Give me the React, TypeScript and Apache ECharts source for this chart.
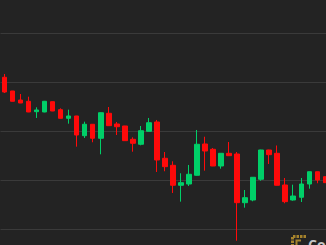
import React, { useEffect, useRef } from "react";
import * as echarts from "echarts";

const categories = [
  "09:00", "09:30", "10:00", "10:30", "11:00", "11:30", "12:00", "12:30", "13:00", "13:30",
  "14:00", "14:30", "15:00", "15:30", "16:00", "16:30", "17:00", "17:30", "18:00", "18:30",
  "19:00", "19:30", "20:00", "20:30", "21:00", "21:30", "22:00", "22:30", "23:00", "23:30",
  "00:00", "00:30", "01:00", "01:30", "02:00", "02:30", "03:00", "03:30", "04:00", "04:30",
  "05:00",
];

// [open, close, low, high]
const ohlc: number[][] = [
  [9310.5, 9280.3, 9278.3, 9317.2],
  [9282.4, 9261.3, 9261.0, 9282.6],
  [9263.9, 9257.8, 9257.5, 9276.2],
  [9261.3, 9239.4, 9239.0, 9270.7],
  [9240.0, 9243.5, 9227.1, 9249.0],
  [9239.4, 9261.3, 9238.8, 9262.0],
  [9260.5, 9241.4, 9241.0, 9261.0],
  [9244.1, 9226.4, 9226.0, 9246.9],
  [9226.4, 9231.2, 9215.4, 9244.1],
  [9231.2, 9192.2, 9168.3, 9231.5],
  [9190.8, 9214.2, 9186.1, 9219.5],
  [9214.2, 9185.5, 9177.3, 9214.5],
  [9185.5, 9237.9, 9152.7, 9238.5],
  [9236.7, 9211.3, 9211.0, 9249.6],
  [9214.8, 9209.2, 9192.2, 9218.9],
  [9210.7, 9180.6, 9180.3, 9211.0],
  [9183.4, 9175.2, 9158.0, 9187.5],
  [9173.2, 9201.0, 9171.1, 9210.7],
  [9199.8, 9217.4, 9199.5, 9227.1],
  [9218.9, 9141.0, 9116.4, 9223.0],
  [9144.5, 9127.3, 9117.9, 9157.4],
  [9130.1, 9089.2, 9073.4, 9138.3],
  [9089.2, 9094.5, 9055.6, 9113.8],
  [9091.8, 9111.7, 9087.7, 9130.8],
  [9109.7, 9173.2, 9109.0, 9202.5],
  [9173.8, 9159.4, 9119.1, 9188.7],
  [9162.9, 9128.7, 9128.4, 9165.6],
  [9128.7, 9154.7, 9123.2, 9155.0],
  [9154.7, 9149.8, 9149.5, 9177.9],
  [9153.3, 9053.5, 8975.6, 9157.4],
  [9053.5, 9063.8, 9043.3, 9079.5],
  [9059.0, 9105.6, 9056.4, 9106.0],
  [9101.5, 9161.5, 9098.6, 9162.0],
  [9161.5, 9151.9, 9132.8, 9162.0],
  [9154.7, 9089.2, 9088.9, 9170.7],
  [9089.8, 9055.6, 9052.3, 9104.1],
  [9059.0, 9067.2, 9057.6, 9090.4],
  [9064.6, 9091.8, 9054.9, 9104.1],
  [9091.8, 9117.0, 9082.2, 9117.3],
  [9117.0, 9100.0, 9093.3, 9117.3],
  [9106.8, 9094.5, 9094.0, 9107.0],
];

const yMin = 8900;
const yMax = 9500;
const yStep = 100;

export default function App() {
  const ref = useRef<HTMLDivElement>(null);
  useEffect(() => {
    document.body.style.margin = "0";
    document.body.style.background = "#232323";
    const chart = echarts.init(ref.current!, null, { renderer: "svg" });
    chart.setOption({
      animation: false,
      backgroundColor: "#232323",
      grid: {
        left: 0.5,
        top: -15.2,
        width: 41 * 8.02,
        height: 292.8,
        containLabel: false,
        outerBoundsMode: "none",
      },
      xAxis: {
        type: "category",
        data: categories,
        boundaryGap: true,
        axisLine: { show: false },
        axisTick: { show: false },
        axisLabel: { show: false },
        splitLine: { show: false },
      },
      yAxis: {
        type: "value",
        min: yMin,
        max: yMax,
        interval: yStep,
        axisLine: { show: false },
        axisTick: { show: false },
        axisLabel: { show: false },
        splitLine: { show: true, lineStyle: { color: "#3a3a3a", width: 1 } },
      },
      series: [
        {
          type: "candlestick",
          data: ohlc,
          barWidth: 5,
          clip: false,
          itemStyle: {
            color: "#00cf68",
            color0: "#ff0a0a",
            borderColor: "#00cf68",
            borderColor0: "#ff0a0a",
            borderWidth: 1,
          },
        },
      ],
      graphic: [
        {
          type: "polyline",
          shape: { points: [[306, 236.5], [292.5, 236.5], [292.5, 247]] },
          style: { stroke: "#a5822c", lineWidth: 3, fill: "none", lineDash: [2.5, 1] },
        },
        {
          type: "polyline",
          shape: { points: [[301, 240.5], [296.5, 240.5], [296.5, 247]] },
          style: { stroke: "#a5822c", lineWidth: 2, fill: "none" },
        },
        {
          type: "text",
          x: 308,
          y: 237.5,
          style: {
            text: "CoinDesk",
            fill: "#c4c4c4",
            font: "bold 14px 'Open Sans', sans-serif",
            textVerticalAlign: "top",
          },
        },
      ],
    });
    return () => chart.dispose();
  }, []);
  return (
    <div
      ref={ref}
      style={{ position: "fixed", left: 0, top: 0, width: 326, height: 245 }}
    />
  );
}
